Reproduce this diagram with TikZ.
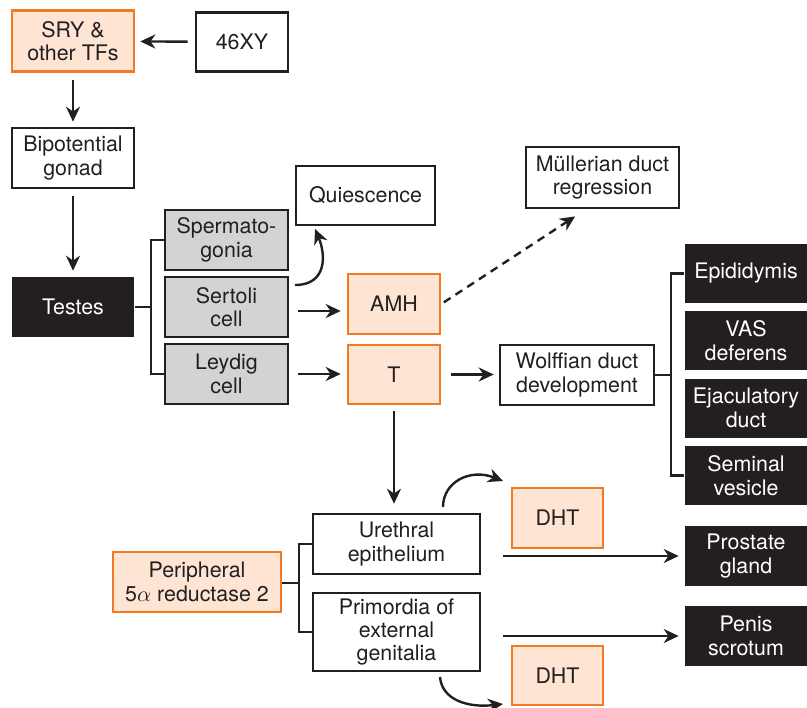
\documentclass[tikz,border=0pt]{standalone}
\usepackage{fontspec}
\setmainfont{TeX Gyre Heros}
\usepackage{tikz}
\usetikzlibrary{arrows.meta,positioning}

\definecolor{hormone}{HTML}{F37A24}
\definecolor{hormonefill}{HTML}{FEE4D2}
\definecolor{cellgray}{HTML}{D1D3D4}
\definecolor{ink}{HTML}{231F20}

\tikzset{
  box/.style={draw=ink, line width=1.3pt, fill=white, text=ink, align=center,
    inner sep=0pt, minimum height=30pt, minimum width=61pt,
    font=\fontsize{10.7}{11.7}\selectfont},
  hormonebox/.style={box, draw=hormone, fill=hormonefill},
  cellbox/.style={box, fill=cellgray},
  organ/.style={box, draw=none, fill=ink, text=white},
  arr/.style={ink, line width=1.2pt, shorten <=3.5pt, shorten >=2.5pt,
    -{Stealth[length=7.5pt,width=7pt,inset=2.4pt]}},
  link/.style={ink, line width=1.1pt},
}

\begin{document}
\begin{tikzpicture}[x=0.5pt,y=-0.5pt]
\useasboundingbox (0,0) rectangle (807,707);

% gonad
\node[hormonebox, minimum height=30.5pt] (sry) at (73,41) {SRY \&\\other TFs};
\node[box, minimum width=46pt, minimum height=29.5pt] (xy) at (242,42) {46XY};
\node[box] (gonad) at (73,158) {Bipotential\\gonad};
\node[organ] (testes) at (73,307) {Testes};

% cells of the testis
\node[cellbox, minimum width=61.5pt] (sperm) at (226.5,240) {Spermato-\\gonia};
\node[cellbox, minimum width=61.5pt] (sertoli) at (226.5,307) {Sertoli\\cell};
\node[cellbox, minimum width=61.5pt] (leydig) at (226.5,374) {Leydig\\cell};
\node[box, minimum width=69.5pt, minimum height=29.5pt] (quies) at (365.5,195.5) {Quiescence};

% hormones
\node[hormonebox, minimum width=46pt] (amh) at (394,304) {AMH};
\node[hormonebox, minimum width=46pt, minimum height=29.5pt] (T) at (394,374.5) {T};
\node[box, minimum width=76.5pt, minimum height=30.5pt] (muller) at (602.5,177.5) {Müllerian duct\\regression};
\node[box, minimum width=77pt] (wolff) at (577,375) {Wolffian duct\\development};

% wolffian derivatives
\foreach \nm/\y/\txt in {epid/273.5/{Epididymis}, vas/340.5/{VAS\\deferens},
    ejac/408/{Ejaculatory\\duct}, seminal/475.5/{Seminal\\vesicle}}
  \node[organ, minimum height=29.5pt] (\nm) at (746,\y) {\txt};

% peripheral conversion
\node[hormonebox, minimum width=84pt] (periph) at (197,582) {Peripheral\\5$\alpha$ reductase 2};
\node[box, minimum width=83.5pt] (urethral) at (396.5,544) {Urethral\\epithelium};
\node[box, minimum width=83.5pt, minimum height=39pt] (primordia) at (396.5,632) {Primordia of\\external\\genitalia};
\node[hormonebox, minimum width=45.5pt] (dht1) at (557.5,518) {DHT};
\node[hormonebox, minimum width=45.5pt, minimum height=29.5pt] (dht2) at (557.5,675.5) {DHT};
\node[organ] (prostate) at (746,556) {Prostate\\gland};
\node[organ] (penis) at (746,636) {Penis\\scrotum};

% brackets
\coordinate (tsplit) at (151,307);
\coordinate (wsplit) at (671,375);
\coordinate (psplit) at (299,583);
\draw[link] (testes.east) -- (tsplit);
\draw[link] (sperm.west) -| (tsplit) |- (leydig.west);
\draw[link] (wolff.east) -- (wsplit);
\draw[link] (epid.west) -| (wsplit) |- (seminal.west);
\draw[link] (periph.east |- psplit) -- (psplit);
\draw[link] (urethral.west) -| (psplit) |- (primordia.west);

% arrows
\draw[arr] (xy) -- (sry);
\draw[arr] (sry) -- (gonad);
\draw[arr] (gonad) -- (testes);
\draw[arr, shorten <=4.5pt, shorten >=3pt] ([yshift=-2pt]sertoli.east) -- ([yshift=-2pt]sertoli.east -| amh.west);
\draw[arr, shorten <=4.5pt, shorten >=3pt] (leydig.east) -- (leydig.east -| T.west);
\draw[arr, shorten <=5pt] (T.east) -- (T.east -| wolff.west);
\draw[arr, shorten <=3pt, shorten >=4.5pt] (T.south) -- (T.south |- urethral.north);
\draw[arr, dash pattern=on 4pt off 3pt, shorten <=1.5pt, shorten >=6.5pt]
  (amh.east) -- ([xshift=-8.25pt]muller.south);
\draw[arr, shorten <=11pt] (urethral.east |- prostate.west) -- (prostate.west);
\draw[arr, shorten <=11pt] (primordia.east |- penis.west) -- (penis.west);

% curved arrows
\coordinate (qstart) at (295,285);
\coordinate (qend) at (315,229);
\draw[arr, shorten <=0pt, shorten >=0pt] (qstart) .. controls (327,285) and (326,255) .. (qend);
\coordinate (ustart) at (443,507);
\coordinate (uend) at (503,481);
\draw[arr, shorten <=0pt, shorten >=0pt] (ustart) .. controls (443,482) and (470,468) .. (uend);
\coordinate (gstart) at (440,677);
\coordinate (gend) at (503,704);
\draw[arr, shorten <=0pt, shorten >=0pt] (gstart) .. controls (442,700) and (468,708) .. (gend);
\end{tikzpicture}
\end{document}
